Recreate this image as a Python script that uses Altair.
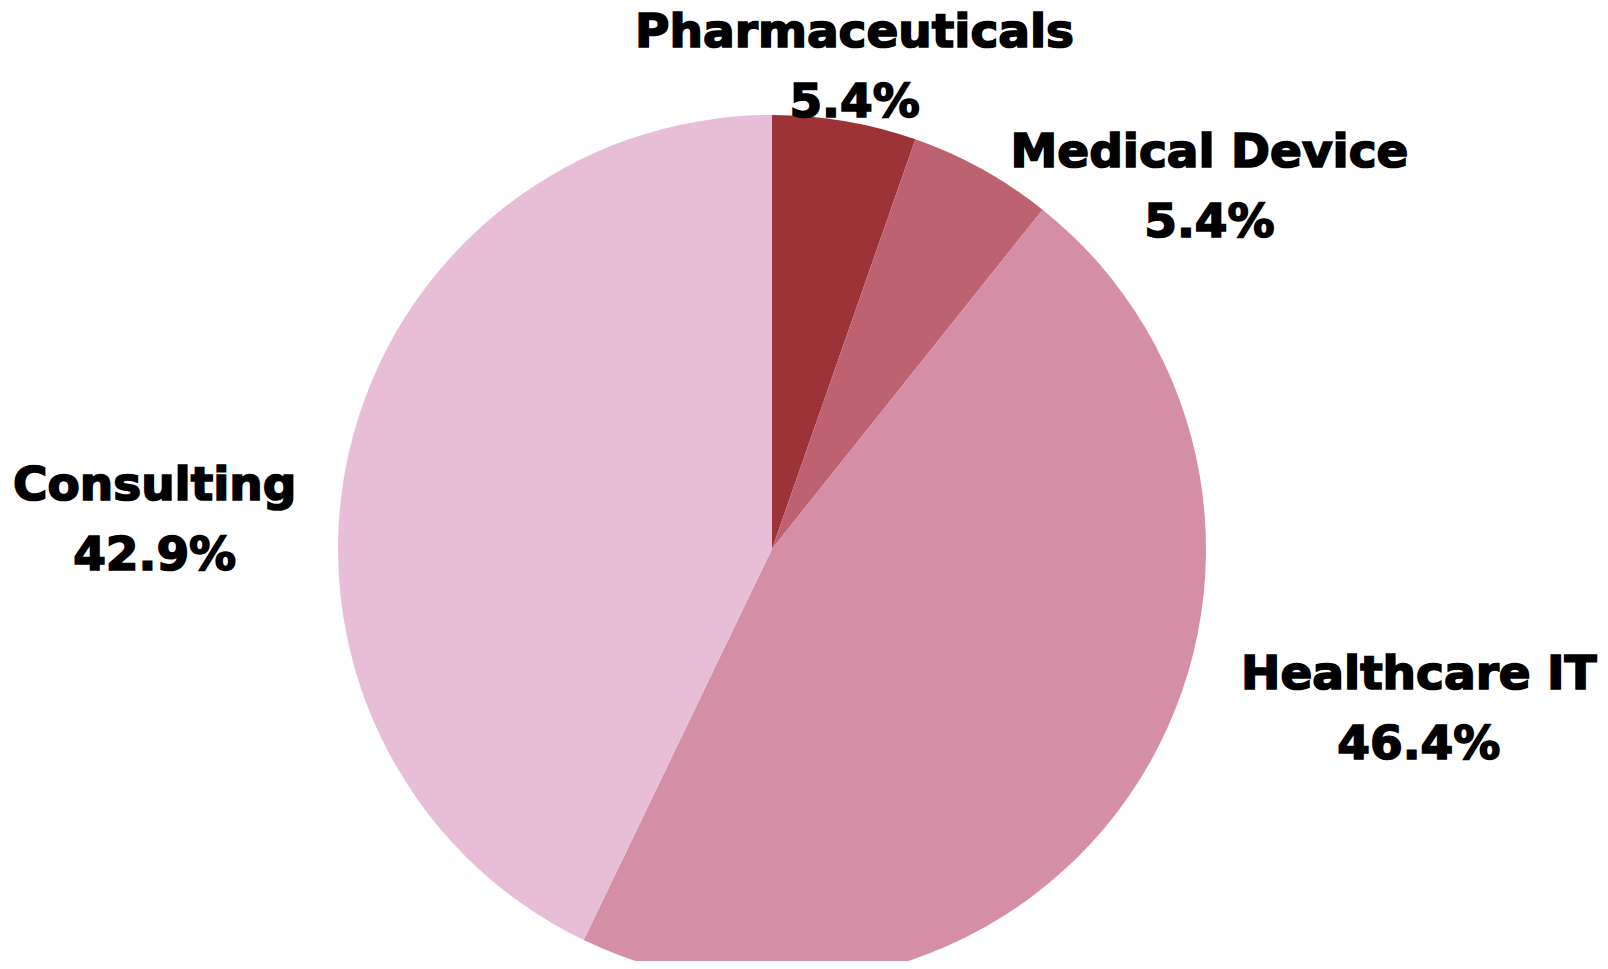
import math
import altair as alt
import pandas as pd

categories = ["Pharmaceuticals", "Medical Device", "Healthcare IT", "Consulting"]
counts = [3, 3, 26, 24]
colors = ["#9c3336", "#bd6270", "#d48fa7", "#e7bdd7"]

df = pd.DataFrame({
    "category": categories,
    "count": counts,
    "order": list(range(len(categories))),
})

PIE_R = 434
LABEL_R = 493
FONT = "DejaVu Sans"
FS = 47

base = alt.Chart(df)

pie = base.mark_arc(outerRadius=PIE_R, stroke=None).encode(
    theta=alt.Theta("count:Q", stack=True),
    color=alt.Color("category:N", scale=alt.Scale(domain=categories, range=colors), legend=None),
    order=alt.Order("order:Q"),
)

lab_base = base.transform_window(
    cum="sum(count)", sort=[alt.SortField("order")], frame=[None, 0]
).transform_joinaggregate(
    total="sum(count)"
).transform_calculate(
    mid="2*PI*(datum.cum - datum.count/2)/datum.total",
    label="datum.category + '\\n' + format(datum.count/datum.total, '.1%')",
)


def label_layer(cond, baseline, side, dy, extra=0):
    # lines are centred on each other; the block is pushed out by half the name's width
    if side == 0:
        dx_expr = "0"
    else:
        dx_expr = f"{side} * (0.31 * {FS} * length(datum.category) + {extra})"
    return lab_base.transform_filter(cond).mark_text(
        radius=LABEL_R,
        align="center",
        baseline=baseline,
        lineBreak="\n",
        font=FONT,
        fontSize=FS,
        fontWeight="bold",
        lineHeight=70,
        color="black",
        stroke="black",
        strokeWidth=1.7,
        dx=alt.expr(dx_expr),
        dy=dy,
    ).encode(
        theta=alt.Theta("mid:Q", scale=alt.Scale(domain=[0, 2 * math.pi], range=[0, 2 * math.pi])),
        text="label:N",
    )


layers = [
    label_layer("abs(sin(datum.mid)) < 0.3", "top", 0, -53),
    label_layer("sin(datum.mid) >= 0.3 && cos(datum.mid) >= 0", "top", 1, 12, -5),
    label_layer("sin(datum.mid) >= 0.3 && cos(datum.mid) < 0", "bottom", 1, -112, 40),
    label_layer("sin(datum.mid) <= -0.3 && cos(datum.mid) >= 0", "top", -1, 24, -9),
    label_layer("sin(datum.mid) <= -0.3 && cos(datum.mid) < 0", "bottom", -1, -112, 40),
]

chart = alt.layer(pie, *layers).resolve_scale(theta="independent").properties(
    width=1528,
    height=824,
    padding={"left": 0, "top": 129, "right": 64, "bottom": 0},
    autosize=alt.AutoSizeParams(type="none"),
    background="white",
).configure_view(stroke=None)

chart.save("out.html", embed_options={"renderer": "svg", "actions": False})
